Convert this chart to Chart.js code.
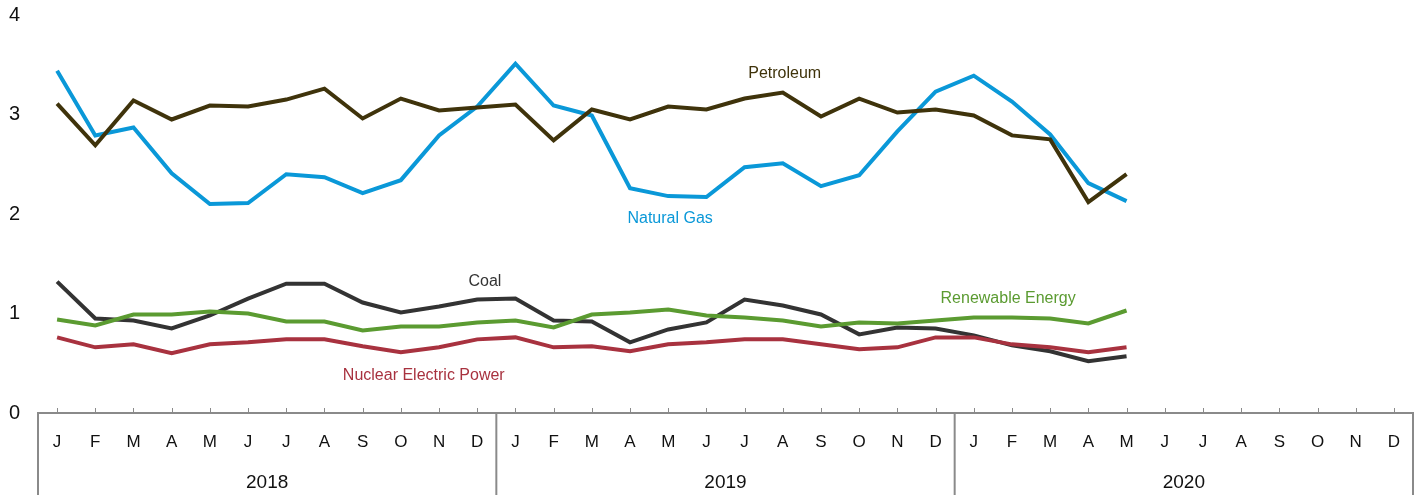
<!DOCTYPE html>
<html>
<head>
<meta charset="utf-8">
<script src="https://cdn.jsdelivr.net/npm/chart.js@4.4.0/dist/chart.umd.min.js"></script>
<style>
  html, body { margin: 0; padding: 0; background: #fff; }
  #wrap { width: 1424px; height: 497px; position: relative; }
</style>
</head>
<body>
<div id="wrap"><canvas id="c"></canvas></div>
<script>
// ---- data ----
const years = ['2018', '2019', '2020'];
const monthLabels = ['J','F','M','A','M','J','J','A','S','O','N','D',
                     'J','F','M','A','M','J','J','A','S','O','N','D',
                     'J','F','M','A','M','J','J','A','S','O','N','D'];
const yTicks = [0, 1, 2, 3, 4];

const naturalGas = [3.44, 2.79, 2.87, 2.41, 2.10, 2.11, 2.40, 2.37, 2.21, 2.34, 2.79, 3.08,
                    3.51, 3.09, 2.99, 2.26, 2.18, 2.17, 2.47, 2.51, 2.28, 2.39, 2.83, 3.23,
                    3.39, 3.13, 2.80, 2.31, 2.13];
const petroleum  = [3.11, 2.69, 3.14, 2.95, 3.09, 3.08, 3.15, 3.26, 2.96, 3.16, 3.04, 3.07,
                    3.10, 2.74, 3.05, 2.95, 3.08, 3.05, 3.16, 3.22, 2.98, 3.16, 3.02, 3.05,
                    2.99, 2.79, 2.75, 2.12, 2.40];
const coal       = [1.32, 0.95, 0.93, 0.85, 0.98, 1.15, 1.30, 1.30, 1.11, 1.01, 1.07, 1.14,
                    1.15, 0.93, 0.92, 0.71, 0.84, 0.91, 1.14, 1.08, 0.99, 0.79, 0.86, 0.85,
                    0.78, 0.68, 0.62, 0.52, 0.57];
const renewable  = [0.94, 0.88, 0.99, 0.99, 1.02, 1.00, 0.92, 0.92, 0.83, 0.87, 0.87, 0.91,
                    0.93, 0.86, 0.99, 1.01, 1.04, 0.98, 0.96, 0.93, 0.87, 0.91, 0.90, 0.93,
                    0.96, 0.96, 0.95, 0.90, 1.03];
const nuclear    = [0.76, 0.66, 0.69, 0.60, 0.69, 0.71, 0.74, 0.74, 0.67, 0.61, 0.66, 0.74,
                    0.76, 0.66, 0.67, 0.62, 0.69, 0.71, 0.74, 0.74, 0.69, 0.64, 0.66, 0.76,
                    0.76, 0.69, 0.66, 0.61, 0.66];

// series label anchors: [name, x index, y value]
const seriesLabels = [
  ['Petroleum', 19.05, 3.41],
  ['Natural Gas', 16.05, 1.95],
  ['Coal', 11.2, 1.32],
  ['Renewable Energy', 24.9, 1.15],
  ['Nuclear Electric Power', 9.6, 0.38]
];

const C_NG = '#0a98d8', C_PET = '#3f330b', C_COAL = '#333333', C_REN = '#5b9b31', C_NUC = '#a8323f';
const labelColors = { 'Petroleum': C_PET, 'Natural Gas': C_NG, 'Coal': C_COAL, 'Renewable Energy': C_REN, 'Nuclear Electric Power': C_NUC };
const AXIS = '#8a8a8a';
const FONT = "'Liberation Sans', Arial, sans-serif";

const decor = {
  id: 'decor',
  afterDraw(chart) {
    const { ctx, chartArea, scales: { x, y } } = chart;
    ctx.save();
    // small upward tick marks
    ctx.strokeStyle = AXIS;
    ctx.lineWidth = 1;
    for (let i = 0; i < monthLabels.length; i++) {
      const px = Math.round(x.getPixelForValue(i)) + 0.5;
      ctx.beginPath();
      ctx.moveTo(px, chartArea.bottom - 5);
      ctx.lineTo(px, chartArea.bottom);
      ctx.stroke();
    }
    // year separators
    const step = x.getPixelForValue(1) - x.getPixelForValue(0);
    ctx.lineWidth = 2;
    for (let k = 0; k <= years.length; k++) {
      const px = x.getPixelForValue(12 * k) - step / 2;
      ctx.beginPath();
      ctx.moveTo(px, chartArea.bottom);
      ctx.lineTo(px, chart.height - 2);
      ctx.stroke();
    }
    // year labels
    ctx.fillStyle = '#111';
    ctx.font = '19px ' + FONT;
    ctx.textAlign = 'center';
    ctx.textBaseline = 'middle';
    years.forEach((yr, k) => {
      const left = x.getPixelForValue(12 * k) - step / 2;
      const right = x.getPixelForValue(12 * k + 11) + step / 2;
      ctx.fillText(yr, (left + right) / 2, chartArea.bottom + 70);
    });
    // series labels
    ctx.font = '16px ' + FONT;
    seriesLabels.forEach(([name, xi, yv]) => {
      ctx.fillStyle = labelColors[name];
      ctx.fillText(name, x.getPixelForValue(xi), y.getPixelForValue(yv));
    });
    ctx.restore();
  }
};

const ds = (label, data, color) => ({
  label, data, borderColor: color, backgroundColor: color,
  borderWidth: 4, pointRadius: 0, pointHoverRadius: 0, tension: 0, fill: false,
  borderJoinStyle: 'miter', borderCapStyle: 'butt'
});

new Chart(document.getElementById('c'), {
  type: 'line',
  data: {
    labels: monthLabels,
    datasets: [
      ds('Petroleum', petroleum, C_PET),
      ds('Natural Gas', naturalGas, C_NG),
      ds('Renewable Energy', renewable, C_REN),
      ds('Nuclear Electric Power', nuclear, C_NUC),
      ds('Coal', coal, C_COAL)
    ]
  },
  options: {
    responsive: true,
    maintainAspectRatio: false,
    animation: false,
    layout: { padding: { left: 9, right: 11, top: 15, bottom: 0 } },
    plugins: { legend: { display: false }, tooltip: { enabled: false } },
    scales: {
      x: {
        type: 'category',
        offset: true,
        grid: { display: false, drawTicks: false },
        border: { display: true, color: AXIS, width: 2 },
        ticks: { color: '#111', font: { size: 17, family: FONT }, padding: 19, maxRotation: 0, autoSkip: false },
        afterFit(s) { s.height = 84; }
      },
      y: {
        min: 0, max: 4,
        afterBuildTicks(s) { s.ticks = yTicks.map(v => ({ value: v })); },
        grid: { display: false, drawTicks: false },
        border: { display: false },
        ticks: { color: '#111', font: { size: 20, family: FONT }, crossAlign: 'far', padding: 0 },
        afterFit(s) { s.width = 29; }
      }
    }
  },
  plugins: [decor]
});
</script>
</body>
</html>
